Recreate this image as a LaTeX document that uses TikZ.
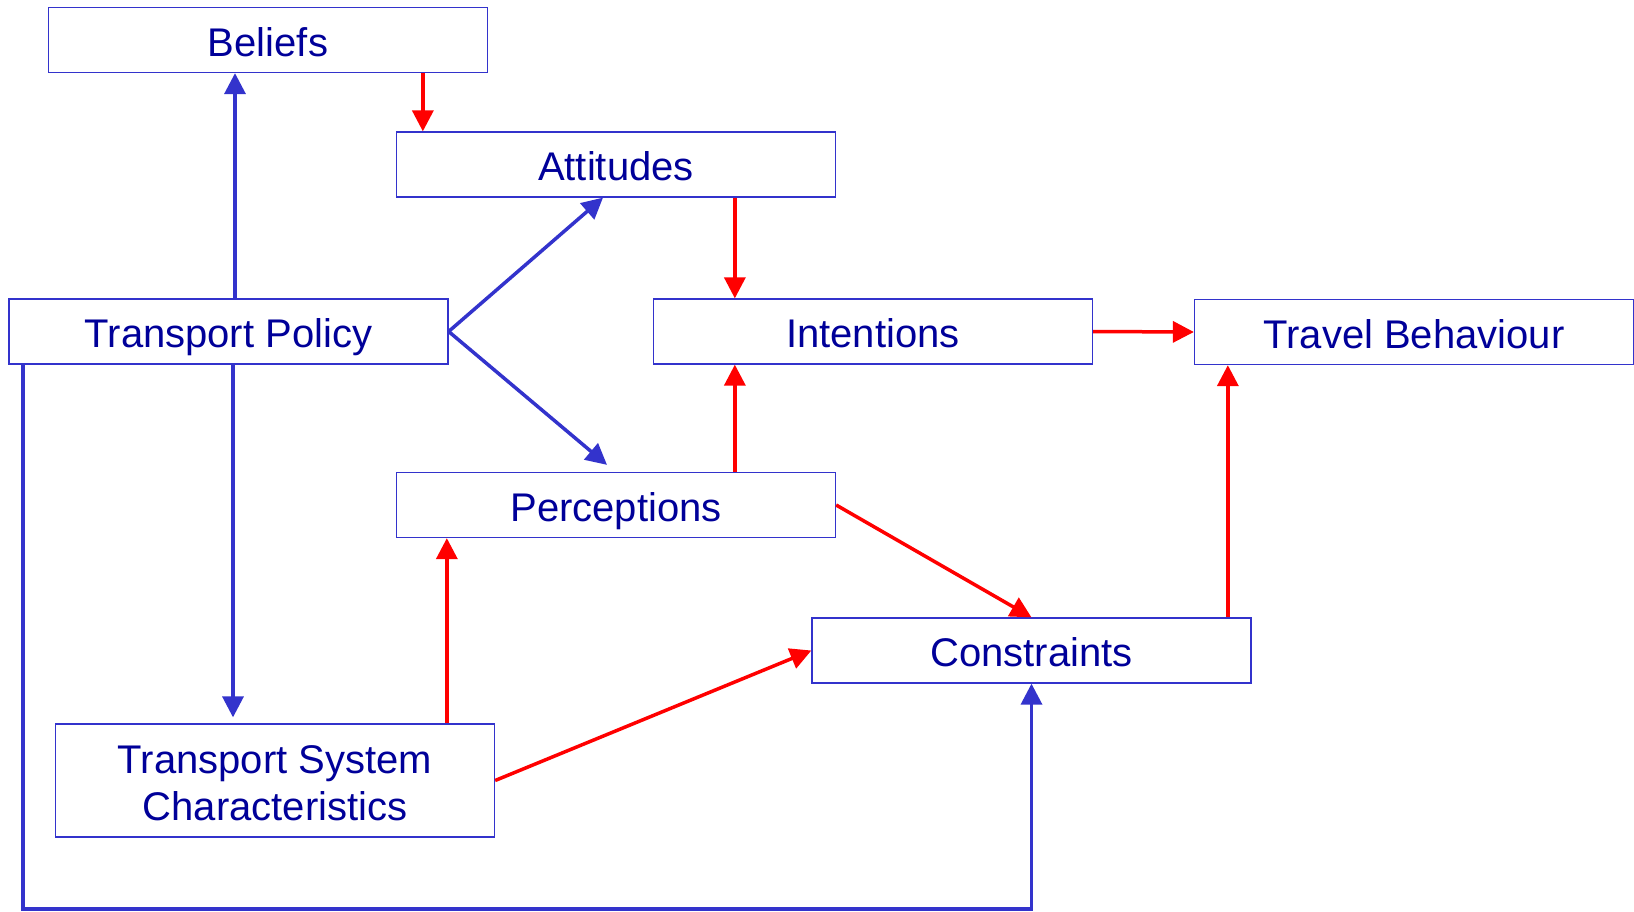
\documentclass[tikz,border=0pt]{standalone}
\usepackage{fontspec}
\setmainfont{Liberation Sans}
\usetikzlibrary{arrows.meta}
\definecolor{boxblue}{RGB}{51,51,204}
\definecolor{textblue}{RGB}{0,0,153}
\definecolor{arrred}{RGB}{255,0,0}
\tikzset{
  box/.style={draw=boxblue, line width=1.3pt, minimum width=439pt, minimum height=65pt,
    inner sep=0pt, text height=32pt, text depth=0pt, text=textblue,
    font=\fontsize{40}{47}\selectfont, align=center},
  bluearr/.style={draw=boxblue, line width=3.5pt, -{Triangle[length=21pt,width=21pt]}},
  redarr/.style={draw=arrred, line width=3.5pt, -{Triangle[length=21pt,width=21pt]}},
}
\begin{document}
\begin{tikzpicture}[x=1pt,y=-1pt]
            \useasboundingbox (0,0) rectangle (1634,911);
            \node[box] (B) at (268,40) {Beliefs};
            \node[box] (A) at (616,164.5) {Attitudes};
            \node[box] (TP) at (228.5,331.5) {Transport Policy};
            \node[box] (I) at (873,331.5) {Intentions};
            \node[box] (TB) at (1414,332) {Travel Behaviour};
            \node[box] (P) at (616,505) {Perceptions};
            \node[box] (C) at (1031.5,650.5) {Constraints};
            \node[box, minimum height=113pt, text height=79pt] (TS) at (275,780.5) {Transport System\\Characteristics};
            
            \coordinate (K) at (23,909);
            
            \draw[bluearr] ([xshift=6.5pt]TP.north) -- ([xshift=6.5pt]TP.north |- B.south);
            \draw[bluearr] (TP.east) -- ([xshift=-13pt]A.south);
            \draw[bluearr] (TP.east) -- ([xshift=-9pt,yshift=7pt]P.north);
            \draw[bluearr] ([xshift=4.5pt]TP.south) -- ([xshift=4.5pt,yshift=6pt]TP.south |- TS.north);
            \draw[bluearr] (TP.south west -| K) -- (K) -| (C.south);
            
            \draw[redarr] ([xshift=27pt]A.north west |- B.south) -- ([xshift=27pt]A.north west);
            \draw[redarr] ([xshift=82pt]I.north west |- A.south) -- ([xshift=82pt]I.north west);
            \draw[redarr] ([xshift=82pt]I.south west |- P.north) -- ([xshift=82pt]I.south west);
            \draw[redarr] (I.east) -- (TB.west);
            \draw[redarr] (P.east) -- (C.north);
            \draw[redarr] ([xshift=34pt]TB.south west |- C.north) -- ([xshift=34pt]TB.south west);
            \draw[redarr] ([xshift=51pt]P.south west |- TS.north) -- ([xshift=51pt]P.south west);
            \draw[redarr] (TS.east) -- (C.west);
\end{tikzpicture}
\end{document}
